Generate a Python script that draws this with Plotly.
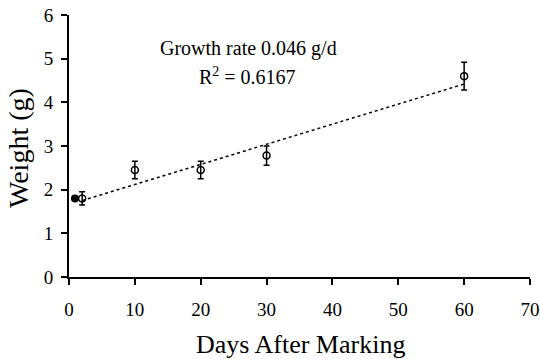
import plotly.graph_objects as go

days = [2, 10, 20, 30, 60]
weight = [1.8, 2.45, 2.45, 2.78, 4.6]
err = [0.15, 0.2, 0.2, 0.22, 0.32]
initial_day = [0.9]
initial_weight = [1.8]
trend_x = [2, 60]
trend_y = [1.75, 4.42]
x_ticks = [0, 10, 20, 30, 40, 50, 60, 70]
y_ticks = [0, 1, 2, 3, 4, 5, 6]

font = "Liberation Serif"

fig = go.Figure()
fig.add_trace(go.Scatter(x=trend_x, y=trend_y, mode="lines",
                         line=dict(color="black", width=1.5, dash="dot"),
                         showlegend=False))
fig.add_trace(go.Scatter(x=days, y=weight, mode="markers",
                         marker=dict(symbol="circle-open", size=7, color="black", line=dict(width=1.5)),
                         error_y=dict(type="data", array=err, visible=True, color="black", thickness=1.5, width=3),
                         showlegend=False))
fig.add_trace(go.Scatter(x=initial_day, y=initial_weight, mode="markers",
                         marker=dict(symbol="circle", size=8, color="black"),
                         showlegend=False))

fig.update_layout(
    width=540, height=359,
    margin=dict(l=69, r=10, t=15, b=82),
    paper_bgcolor="white", plot_bgcolor="white",
    font=dict(family=font, color="black", size=16),
    xaxis=dict(range=[0, 70], tickvals=x_ticks, showline=True, linecolor="black", linewidth=2,
               ticks="outside", ticklen=6, tickwidth=2, tickcolor="black", showgrid=False,
               zeroline=False, tickfont=dict(size=19, family=font), fixedrange=True,
               automargin=False, ticklabelstandoff=8),
    yaxis=dict(range=[0, 6], tickvals=y_ticks, showline=True, linecolor="black", linewidth=2,
               ticks="outside", ticklen=6, tickwidth=2, tickcolor="black", showgrid=False,
               zeroline=False, tickfont=dict(size=19, family=font), fixedrange=True,
               automargin=False, ticklabelstandoff=4),
    annotations=[
        dict(text="Growth rate 0.046 g/d", xref="paper", yref="paper", x=(248-69)/461, y=(277-48)/262,
             showarrow=False, font=dict(size=20, family=font), xanchor="center", yanchor="middle"),
        dict(text="R<sup>2</sup> = 0.6167", xref="paper", yref="paper", x=(247-69)/461, y=(277-76)/262,
             showarrow=False, font=dict(size=20, family=font), xanchor="center", yanchor="middle"),
        dict(text="Weight (g)", xref="paper", yref="paper", x=-(69-18)/461, y=(277-148)/262,
             showarrow=False, textangle=-90, font=dict(size=28, family=font), xanchor="center", yanchor="middle"),
        dict(text="Days After Marking", xref="paper", yref="paper", x=(300-69)/461, y=-(344-277)/262,
             showarrow=False, font=dict(size=26, family=font), xanchor="center", yanchor="middle"),
    ],
)

fig.write_html("out.html", config={"displayModeBar": False},
               post_script="document.body.style.margin='0';document.body.style.overflow='hidden';")
